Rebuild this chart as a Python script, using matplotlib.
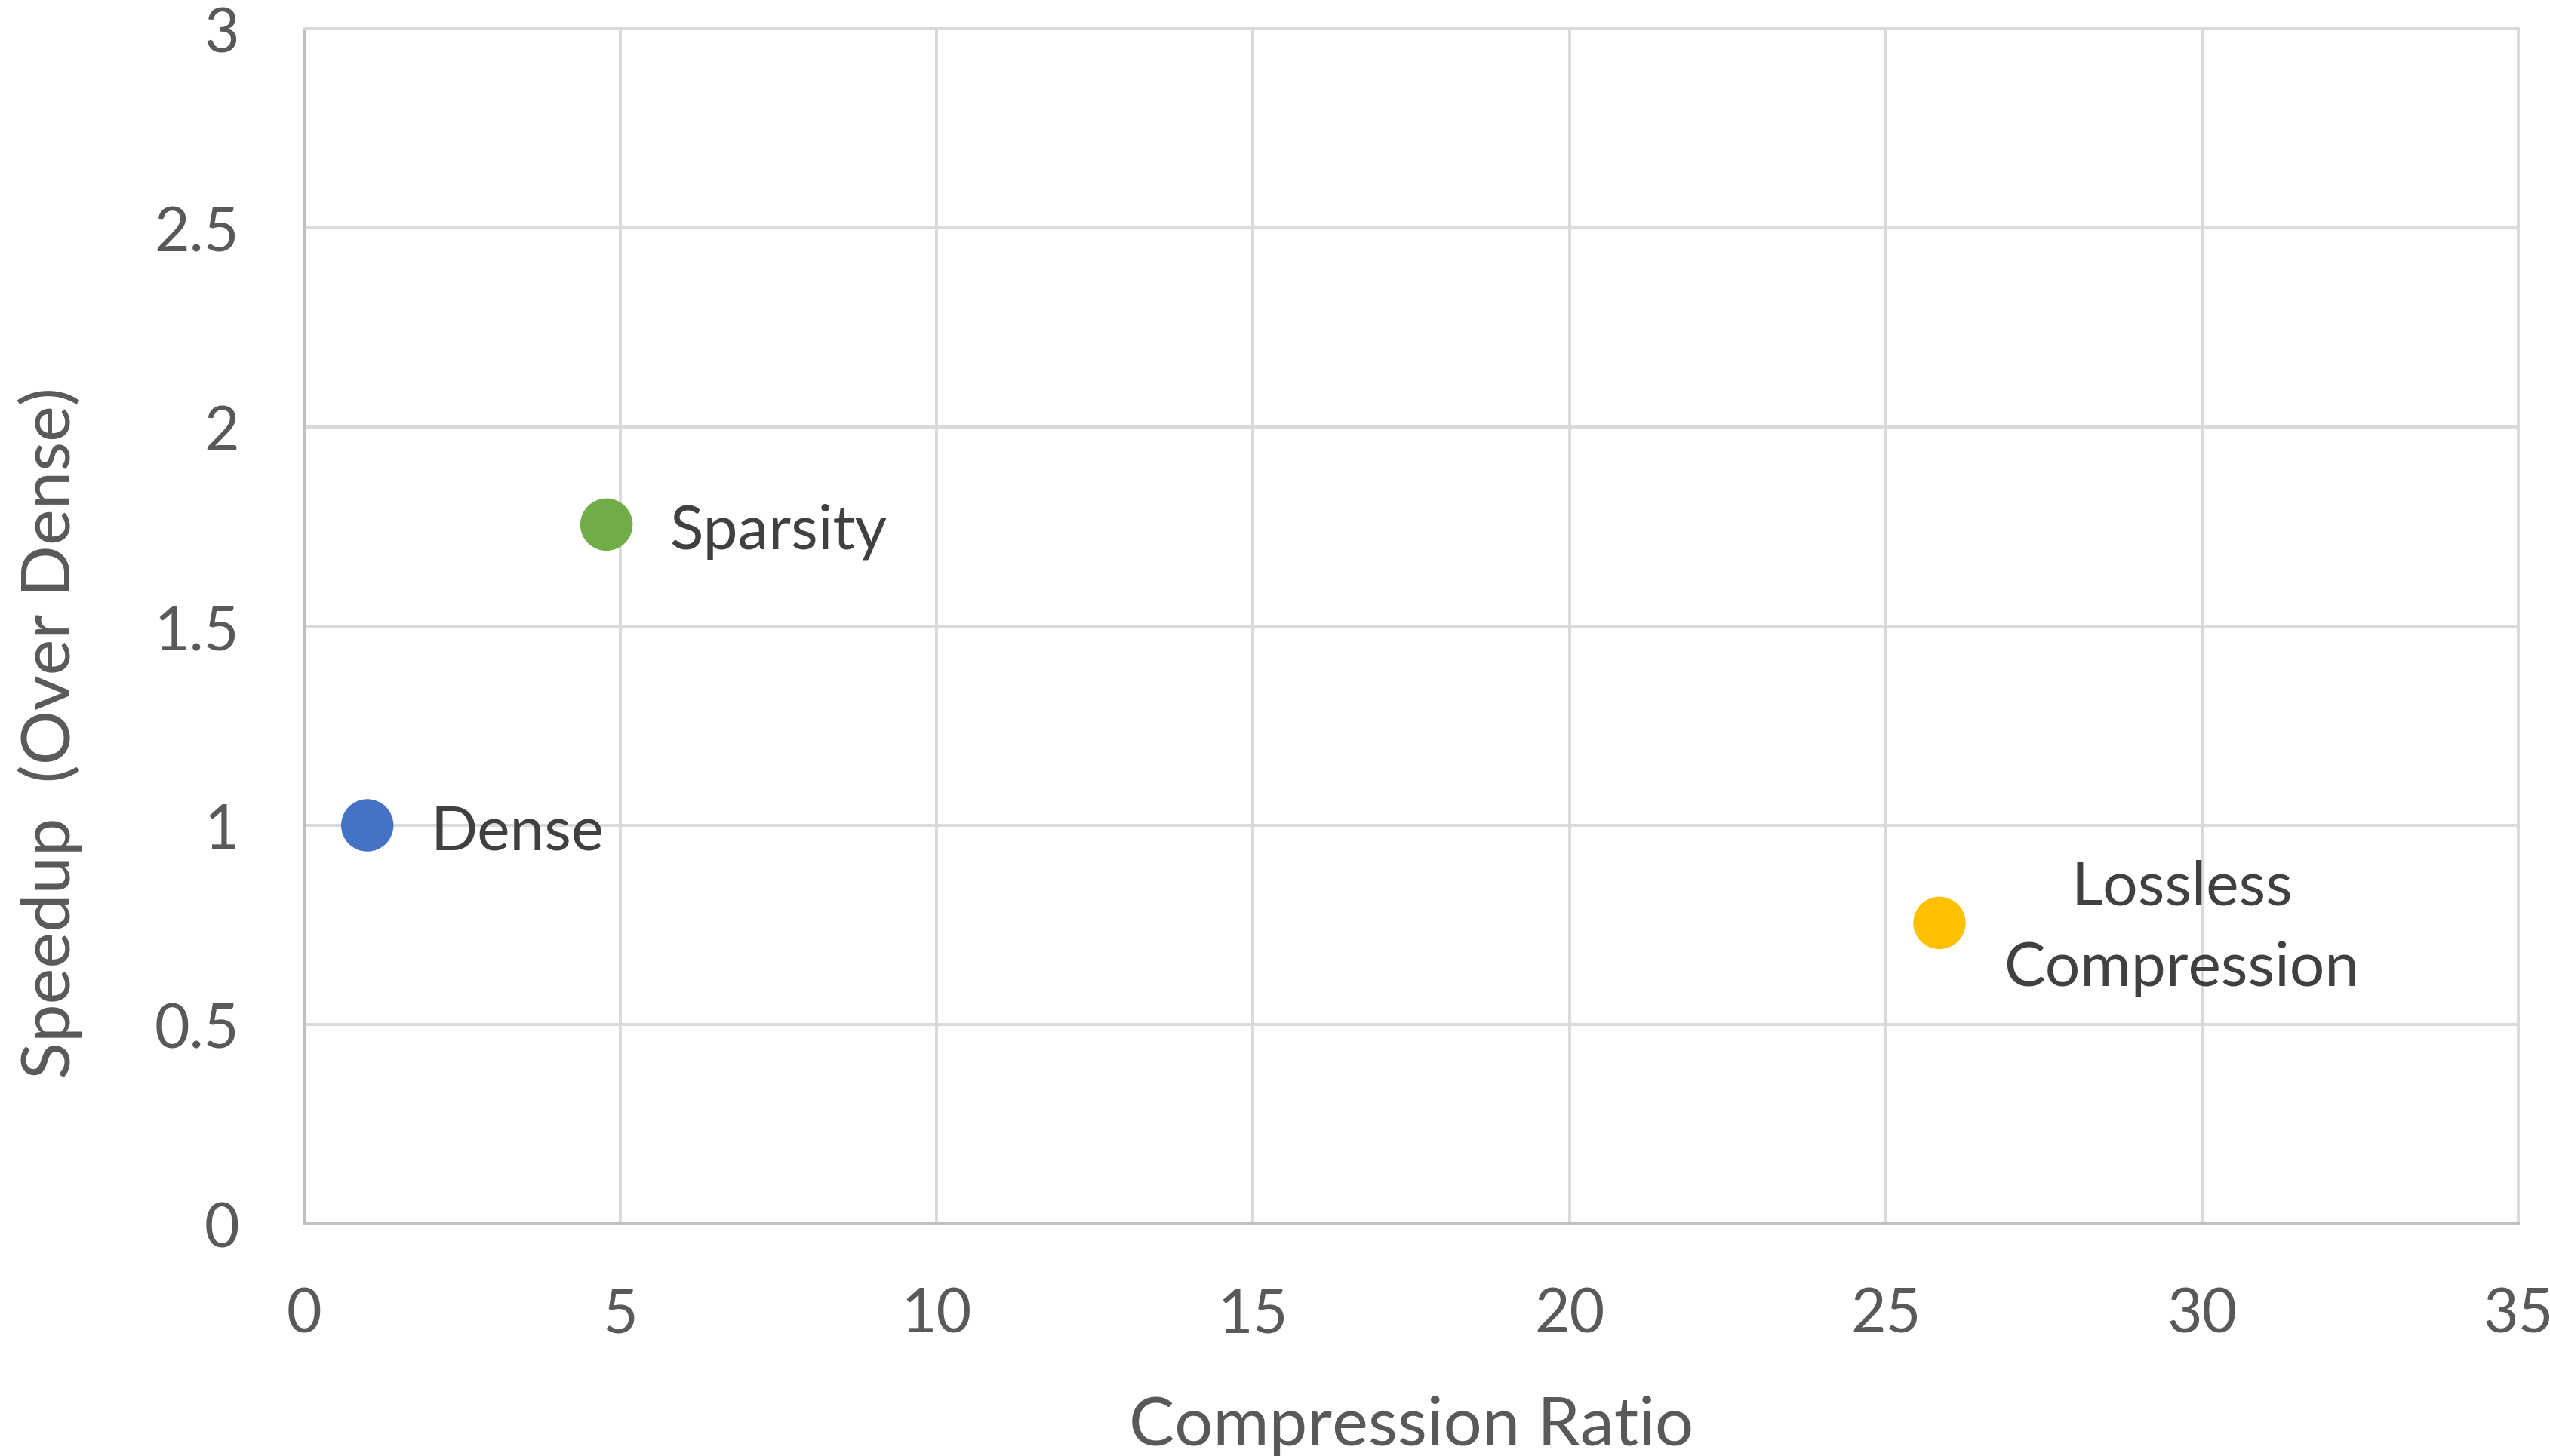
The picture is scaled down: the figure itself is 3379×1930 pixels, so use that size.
import matplotlib.pyplot as plt

# Данные
methods = ["Dense", "Sparsity", "Lossless\nCompression"]
compression_ratio = [1.0, 4.78, 25.85]
speedup = [1.0, 1.755, 0.755]
colors = ["#4472C4", "#70AD47", "#FFC000"]

x_ticks = [0, 5, 10, 15, 20, 25, 30, 35]
y_ticks = [0, 0.5, 1, 1.5, 2, 2.5, 3]
y_tick_labels = ["0", "0.5", "1", "1.5", "2", "2.5", "3"]

# Смещение подписей (в пикселях) относительно точки
label_offsets = [(84, -8), (84, -8), (321, -6)]
label_ha = ["left", "left", "center"]

plt.rcParams['font.family'] = ['Lato', 'DejaVu Sans']

fig = plt.figure(figsize=(33.8, 19.31), dpi=100)
ax = fig.add_axes([0.1192, 0.1595, 0.8681, 0.8203])

ax.scatter(compression_ratio, speedup, s=50 ** 2, c=colors, zorder=3, linewidths=0)

for name, x, y, off, ha in zip(methods, compression_ratio, speedup, label_offsets, label_ha):
    ax.annotate(name, (x, y), xytext=off, textcoords='offset pixels',
                ha=ha, va='center', fontsize=59, color='#404040',
                linespacing=1.55, zorder=4)

ax.set_xlim(0, 35)
ax.set_ylim(0, 3)
ax.set_xticks(x_ticks)
ax.set_yticks(y_ticks)
ax.set_yticklabels(y_tick_labels)

ax.grid(True, color='#D9D9D9', linewidth=2.8, zorder=0)
ax.set_axisbelow(True)
ax.tick_params(length=0, labelsize=58, labelcolor='#595959')
ax.tick_params(axis='x', pad=60)
ax.tick_params(axis='y', pad=62)

for side in ['top', 'right']:
    ax.spines[side].set_color('#D9D9D9')
    ax.spines[side].set_linewidth(2.8)
for side in ['left', 'bottom']:
    ax.spines[side].set_color('#BFBFBF')
    ax.spines[side].set_linewidth(2.8)

ax.set_xlabel("Compression Ratio", fontsize=65, color='#595959')
ax.set_ylabel("Speedup  (Over Dense)", fontsize=65, color='#595959')
ax.xaxis.set_label_coords(0.5, -0.143)
ax.yaxis.set_label_coords(-0.10, 0.411)

fig.savefig("out.png", dpi=100, facecolor='white')
